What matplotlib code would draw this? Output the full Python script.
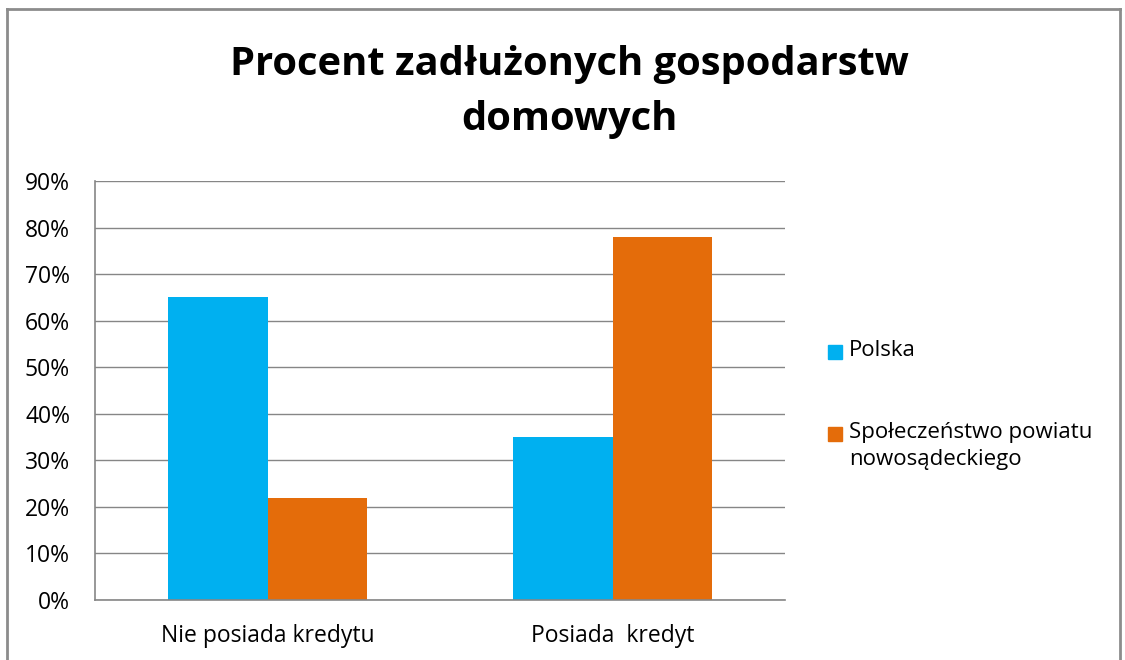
import numpy as np
import matplotlib
matplotlib.use('Agg')
import matplotlib.pyplot as plt
from matplotlib.lines import Line2D
from matplotlib.patches import Rectangle

categories = ['Nie posiada kredytu', 'Posiada  kredyt']
polska = [65, 35]
nowy_sacz = [22, 78]
series_names = ['Polska', 'Społeczeństwo powiatu\nnowosądeckiego']
colors = ['#00B0F0', '#E46C0A']
yticks = [0, 10, 20, 30, 40, 50, 60, 70, 80, 90]

plt.rcParams['font.family'] = ['Open Sans', 'DejaVu Sans']

W, H = 1125, 660
fig = plt.figure(figsize=(W/100, H/100), dpi=100)
ax = fig.add_axes([95/W, 60/H, 690/W, 419/H])

x = np.arange(len(categories))
w = 0.287
ax.bar(x - w/2, polska, w, color=colors[0])
ax.bar(x + w/2, nowy_sacz, w, color=colors[1])

ax.set_xlim(-0.5, 1.5)
ax.set_ylim(0, 90)
ax.set_yticks(yticks)
ax.set_yticklabels([f'{v}%' for v in yticks], fontsize=16.5)
ax.set_xticks(x)
ax.set_xticklabels(categories, fontsize=16.5)
ax.tick_params(axis='both', length=0)
ax.tick_params(axis='y', pad=18)
ax.tick_params(axis='x', pad=17)
ax.yaxis.grid(True, color='#868686', linewidth=1)
ax.set_axisbelow(True)
for s in ['top', 'right']:
    ax.spines[s].set_visible(False)
for s in ['left', 'bottom']:
    ax.spines[s].set_color('#868686')
    ax.spines[s].set_linewidth(1.2)

fig.text(0.506, 1 - 92/H, 'Procent zadłużonych gospodarstw\ndomowych', ha='center', va='center',
         fontsize=28.7, fontweight='bold', linespacing=1.55)

# legend drawn by hand so the square sits on the first text line (like Excel)
for name, c, yc in zip(series_names, colors, [352, 434]):
    fig.add_artist(Rectangle((828/W, 1 - (yc + 7)/H), 14/W, 14/H, color=c,
                             transform=fig.transFigure))
    fig.text(849/W, 1 - (yc - 12)/H, name, ha='left', va='top', fontsize=16,
             linespacing=1.4)

# outer chart border (bottom cut off in the reference)
bc = '#8c8c8c'
fig.add_artist(Line2D([7/W, 7/W], [0, 1 - 9/H], color=bc, lw=2, transform=fig.transFigure))
fig.add_artist(Line2D([7/W, 1120/W], [1 - 9/H, 1 - 9/H], color=bc, lw=2, transform=fig.transFigure))
fig.add_artist(Line2D([1120/W, 1120/W], [0, 1 - 9/H], color=bc, lw=2, transform=fig.transFigure))

plt.savefig('out.png', dpi=100)
